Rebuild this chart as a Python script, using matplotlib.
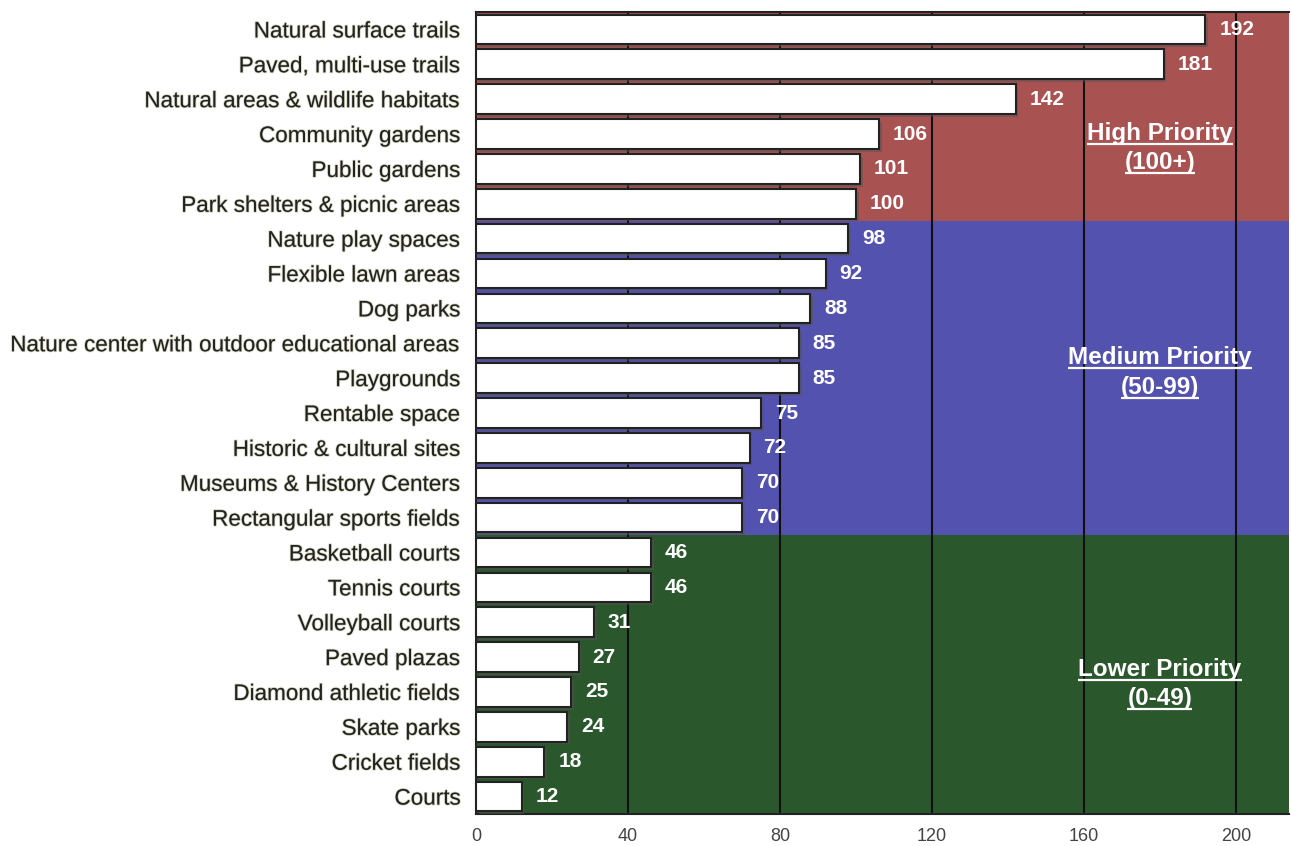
import matplotlib
matplotlib.use("Agg")
import matplotlib.pyplot as plt
import matplotlib.patheffects as pe

categories = [
    "Natural surface trails", "Paved, multi-use trails", "Natural areas & wildlife habitats",
    "Community gardens", "Public gardens", "Park shelters & picnic areas",
    "Nature play spaces", "Flexible lawn areas", "Dog parks",
    "Nature center with outdoor educational areas", "Playgrounds", "Rentable space",
    "Historic & cultural sites", "Museums & History Centers", "Rectangular sports fields",
    "Basketball courts", "Tennis courts", "Volleyball courts", "Paved plazas",
    "Diamond athletic fields", "Skate parks", "Cricket fields", "Courts",
]
values = [192, 181, 142, 106, 101, 100, 98, 92, 88, 85, 85, 75, 72, 70, 70,
          46, 46, 31, 27, 25, 24, 18, 12]
xticks = [0, 40, 80, 120, 160, 200]
band_rows = [(0, 5), (6, 14), (15, 22)]
band_colors = ["#A85252", "#5352AE", "#2B572C"]
band_titles = ["High Priority", "Medium Priority", "Lower Priority"]
band_subtitles = ["(100+)", "(50-99)", "(0-49)"]
# layout for band titles (row position of title line)
title_rows = [2.97, 9.41, 18.35]
title_x = 180

plt.rcParams['font.family'] = ['Liberation Sans', 'DejaVu Sans']
fig = plt.figure(figsize=(12.91, 8.46), dpi=100)
ax = fig.add_axes([0.3687, 0.0378, 0.6298, 0.948])
n = len(categories)
ypos = list(range(n))
ax.set_ylim(n - 0.5, -0.5)
ax.set_xlim(0, 214)

title_texts = []
for (first, last), color, t1, t2, ty in zip(band_rows, band_colors, band_titles, band_subtitles, title_rows):
    ax.axhspan(first - 0.5, last + 0.5, color=color, zorder=0, lw=0)
    for txt, dy in ((t1, 0.0), (t2, 0.85)):
        t = ax.text(title_x, ty + dy, txt, color="white", fontsize=17.5, fontweight="bold",
                    ha="center", va="center", zorder=5)
        title_texts.append(t)

for x in xticks[1:]:
    ax.axvline(x, color="#111111", lw=1.5, zorder=1)

bars = ax.barh(ypos, values, height=0.85, color="white", edgecolor="#222222",
               linewidth=1.5, zorder=3)
for b in bars:
    b.set_path_effects([pe.SimplePatchShadow(offset=(2, -2), shadow_rgbFace="#555555", alpha=0.5), pe.Normal()])

for y, v in zip(ypos, values):
    ax.annotate(str(v), (v, y), xytext=(10, 0), textcoords="offset points",
                color="white", fontsize=15, fontweight="bold", va="center", ha="left", zorder=5)

ax.set_yticks(ypos)
ax.set_yticklabels(categories, fontsize=16.2, color="#222222")
for lbl in ax.get_yticklabels():
    lbl.set_path_effects([pe.withStroke(linewidth=1.2, foreground="#bbbb99", alpha=0.6)])
ax.set_xticks(xticks)
ax.set_xticklabels([str(t) for t in xticks], fontsize=13, color="#444444")
ax.tick_params(axis="y", length=0, pad=11)
ax.tick_params(axis="x", length=0, pad=10)
for s in ax.spines.values():
    s.set_color("#222222")
    s.set_linewidth(1.5)
ax.spines["right"].set_visible(False)

# underline band titles
fig.canvas.draw()
r = fig.canvas.get_renderer()
inv = ax.transData.inverted()
for t in title_texts:
    bb = t.get_window_extent(r)
    (x0, y0) = inv.transform((bb.x0, bb.y0 + 1))
    (x1, _) = inv.transform((bb.x1, bb.y0 + 1))
    ax.plot([x0, x1], [y0, y0], color="white", lw=1.6, zorder=5, solid_capstyle="butt")

fig.savefig("out.png", dpi=100)
